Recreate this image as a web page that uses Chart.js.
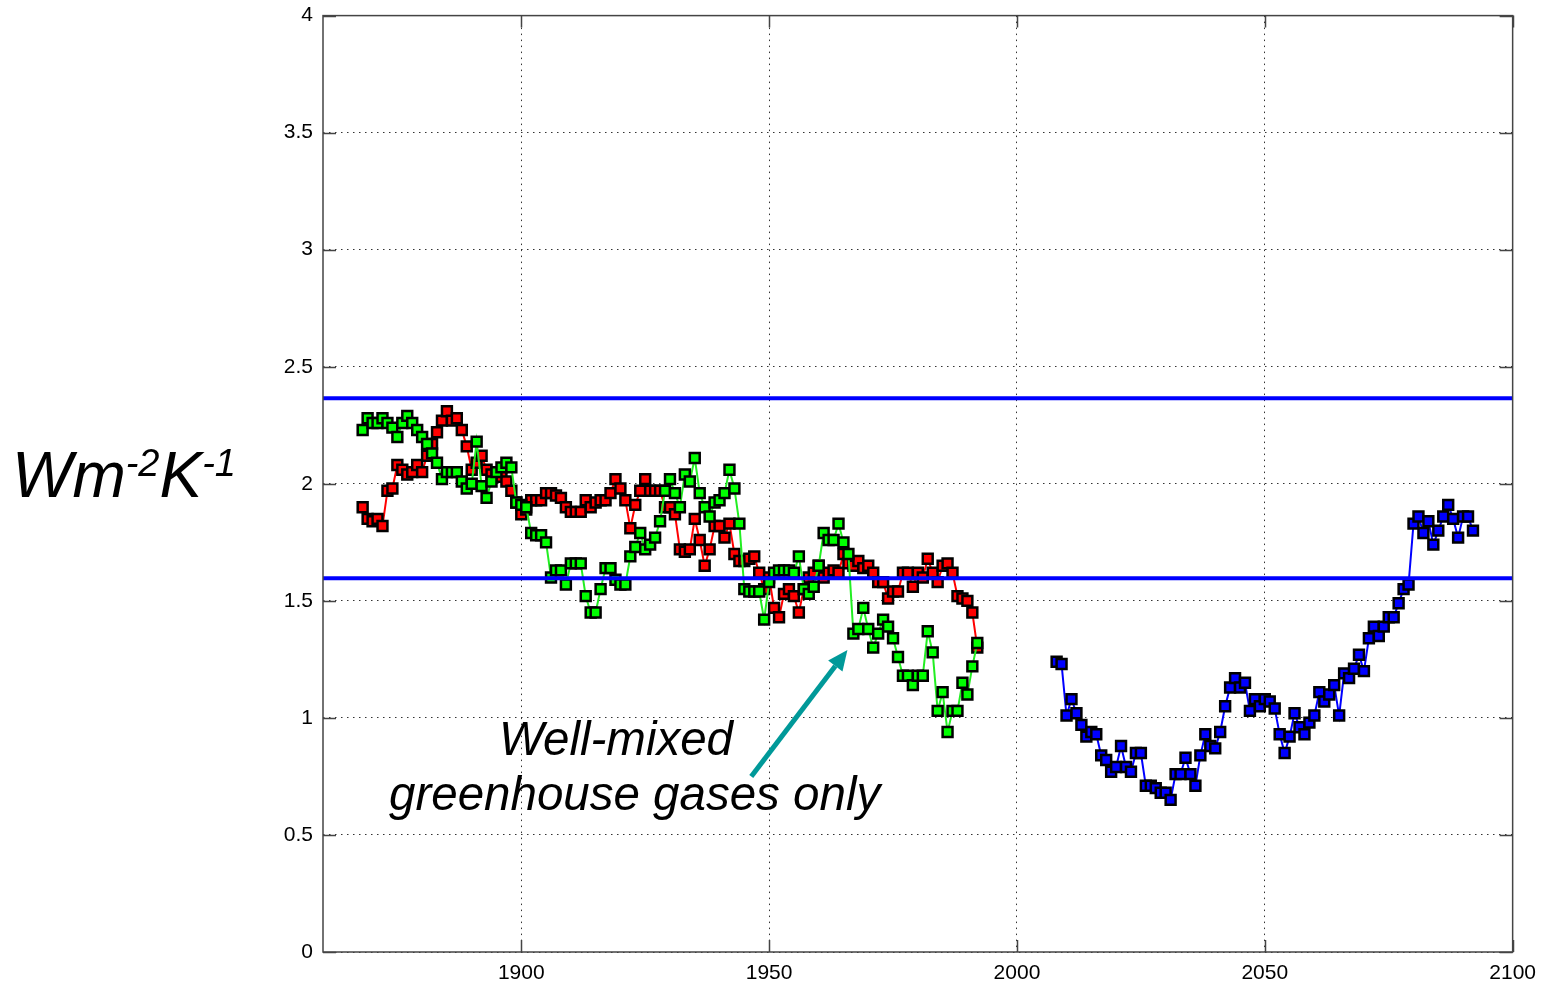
<!DOCTYPE html>
<html>
<head>
<meta charset="utf-8">
<script src="https://cdn.jsdelivr.net/npm/chart.js@4.4.0/dist/chart.umd.min.js"></script>
<style>
body { margin: 0; background: #fff; }
#wrap { position: relative; width: 1545px; height: 990px; overflow: hidden; }
#chart { position: absolute; left: 0; top: -7px; }
#unit { position: absolute; left: 12px; top: 443px; font: italic 64px "Liberation Sans", Arial, sans-serif; line-height: 1; white-space: nowrap; color: #000; }
#unit span { font-size: 38px; position: relative; top: -21px; }
.note { position: absolute; font: italic 47.5px "Liberation Sans", Arial, sans-serif; line-height: 1; white-space: nowrap; color: #000; }
</style>
</head>
<body>
<div id="wrap">
  <canvas id="chart" width="1545" height="997"></canvas>
  <div id="unit">Wm<span>-2</span>K<span>-1</span></div>
  <div class="note" style="left:499px; top:715px;">Well-mixed</div>
  <div class="note" style="left:389px; top:770px;">greenhouse gases only</div>
</div>
<script>
// red run, 1868 onwards
const redValues = [
    1.90, 1.85, 1.84, 1.85, 1.82, 1.97, 1.98, 2.08, 2.06, 2.04,
    2.05, 2.08, 2.05, 2.12, 2.17, 2.22, 2.27, 2.31, 2.27, 2.28,
    2.23, 2.16, 2.06, 2.09, 2.12, 2.06, 2.04, 2.05, 2.03, 2.01,
    1.97, 1.92, 1.87, 1.89, 1.93, 1.93, 1.93, 1.96, 1.96, 1.95,
    1.94, 1.90, 1.88, 1.88, 1.88, 1.93, 1.90, 1.92, 1.93, 1.93,
    1.96, 2.02, 1.98, 1.93, 1.81, 1.91, 1.97, 2.02, 1.97, 1.97,
    1.97, 1.90, 1.90, 1.87, 1.72, 1.71, 1.72, 1.85, 1.76, 1.65,
    1.72, 1.82, 1.82, 1.77, 1.83, 1.70, 1.67, 1.67, 1.68, 1.69,
    1.62, 1.55, 1.60, 1.47, 1.43, 1.53, 1.55, 1.52, 1.45, 1.55,
    1.60, 1.62, 1.65, 1.60, 1.62, 1.63, 1.62, 1.70, 1.66, 1.65,
    1.67, 1.64, 1.65, 1.62, 1.58, 1.58, 1.51, 1.54, 1.54, 1.62,
    1.62, 1.56, 1.62, 1.60, 1.68, 1.62, 1.58, 1.65, 1.66, 1.62,
    1.52, 1.51, 1.50, 1.45, 1.30
];

// well-mixed greenhouse gases only, 1868 onwards
const greenValues = [
    2.23, 2.28, 2.26, 2.26, 2.28, 2.26, 2.24, 2.20, 2.26, 2.29,
    2.26, 2.23, 2.20, 2.17, 2.13, 2.09, 2.02, 2.05, 2.05, 2.05,
    2.01, 1.98, 2.00, 2.18, 1.99, 1.94, 2.01, 2.05, 2.07, 2.09,
    2.07, 1.92, 1.91, 1.90, 1.79, 1.78, 1.78, 1.75, 1.60, 1.63,
    1.63, 1.57, 1.66, 1.66, 1.66, 1.52, 1.45, 1.45, 1.55, 1.64,
    1.64, 1.59, 1.57, 1.57, 1.69, 1.73, 1.79, 1.72, 1.74, 1.77,
    1.84, 1.97, 2.02, 1.96, 1.90, 2.04, 2.01, 2.11, 1.96, 1.90,
    1.86, 1.92, 1.93, 1.96, 2.06, 1.98, 1.83, 1.55, 1.54, 1.54,
    1.54, 1.42, 1.58, 1.62, 1.63, 1.63, 1.63, 1.62, 1.69, 1.55,
    1.53, 1.56, 1.65, 1.79, 1.76, 1.76, 1.83, 1.75, 1.70, 1.36,
    1.38, 1.47, 1.38, 1.30, 1.36, 1.42, 1.39, 1.34, 1.26, 1.18,
    1.18, 1.14, 1.18, 1.18, 1.37, 1.28, 1.03, 1.11, 0.94, 1.03,
    1.03, 1.15, 1.10, 1.22, 1.32
];

// future run, 2008 onwards
const blueValues = [
    1.24, 1.23, 1.01, 1.08, 1.02, 0.97, 0.92, 0.94, 0.93, 0.84,
    0.82, 0.77, 0.79, 0.88, 0.79, 0.77, 0.85, 0.85, 0.71, 0.71,
    0.70, 0.68, 0.68, 0.65, 0.76, 0.76, 0.83, 0.76, 0.71, 0.84,
    0.93, 0.88, 0.87, 0.94, 1.05, 1.13, 1.17, 1.13, 1.15, 1.03,
    1.08, 1.05, 1.08, 1.07, 1.04, 0.93, 0.85, 0.92, 1.02, 0.96,
    0.93, 0.98, 1.01, 1.11, 1.07, 1.10, 1.14, 1.01, 1.19, 1.17,
    1.21, 1.27, 1.20, 1.34, 1.39, 1.35, 1.39, 1.43, 1.43, 1.49,
    1.55, 1.57, 1.83, 1.86, 1.79, 1.84, 1.74, 1.80, 1.86, 1.91,
    1.85, 1.77, 1.86, 1.86, 1.80
];

const histStartYear = 1868;
const futureStartYear = 2008;
const refLevels = [2.365, 1.597];
const xTicks = [1900, 1950, 2000, 2050, 2100];
const yTicks = [0, 0.5, 1, 1.5, 2, 2.5, 3, 3.5, 4];
// arrow from the annotation, in data units
const arrowFrom = { x: 1946.4, y: 0.75 };
const arrowTo = { x: 1965.8, y: 1.29 };

function toPoints(startYear, values) {
    return values.map((v, i) => ({ x: startYear + i, y: v }));
}

function series(values, startYear, fill, line) {
    return {
        data: toPoints(startYear, values),
        borderColor: line,
        borderWidth: 2,
        backgroundColor: fill,
        pointStyle: 'rect',
        pointRadius: 7,
        pointBackgroundColor: fill,
        pointBorderColor: '#000',
        pointBorderWidth: 2.5,
        tension: 0,
        order: 2,
    };
}

const refDatasets = refLevels.map(level => ({
    data: [{ x: 1860, y: level }, { x: 2100, y: level }],
    borderColor: '#0000ff',
    borderWidth: 4,
    pointRadius: 0,
    order: 0,
}));

const font = { family: '"Liberation Sans", Arial, sans-serif', size: 21 };

// box frame, inner tick marks and the arrow
const framePlugin = {
    id: 'frame',
    afterDatasetsDraw(chart) {
        const ctx = chart.ctx;
        const a = chart.chartArea;
        const xs = chart.scales.x;
        const ys = chart.scales.y;
        ctx.save();
        ctx.strokeStyle = '#444';
        ctx.lineWidth = 1.5;
        ctx.strokeRect(a.left, a.top, a.right - a.left, a.bottom - a.top);
        ctx.beginPath();
        for (const t of yTicks) {
            const y = Math.round(ys.getPixelForValue(t)) + 0.5;
            ctx.moveTo(a.left, y); ctx.lineTo(a.left + 13, y);
            ctx.moveTo(a.right, y); ctx.lineTo(a.right - 13, y);
        }
        for (const t of xTicks) {
            const x = Math.round(xs.getPixelForValue(t)) + 0.5;
            ctx.moveTo(x, a.bottom); ctx.lineTo(x, a.bottom - 12);
            ctx.moveTo(x, a.top); ctx.lineTo(x, a.top + 12);
        }
        ctx.stroke();

        const x0 = xs.getPixelForValue(arrowFrom.x), y0 = ys.getPixelForValue(arrowFrom.y);
        const x1 = xs.getPixelForValue(arrowTo.x), y1 = ys.getPixelForValue(arrowTo.y);
        const ang = Math.atan2(y1 - y0, x1 - x0);
        const headLen = 20, headW = 9;
        const bx = x1 - headLen * Math.cos(ang), by = y1 - headLen * Math.sin(ang);
        ctx.strokeStyle = '#009999';
        ctx.fillStyle = '#009999';
        ctx.lineWidth = 5;
        ctx.beginPath();
        ctx.moveTo(x0, y0);
        ctx.lineTo(bx, by);
        ctx.stroke();
        ctx.beginPath();
        ctx.moveTo(x1, y1);
        ctx.lineTo(bx + headW * Math.sin(ang), by - headW * Math.cos(ang));
        ctx.lineTo(bx - headW * Math.sin(ang), by + headW * Math.cos(ang));
        ctx.closePath();
        ctx.fill();
        ctx.restore();
    }
};

new Chart(document.getElementById('chart'), {
    type: 'line',
    data: {
        datasets: [
            ...refDatasets,
            series(greenValues, histStartYear, '#00ff00', '#22ee22'),
            series(redValues, histStartYear, '#ff0000', '#ff0000'),
            series(blueValues, futureStartYear, '#0000ff', '#0000ff'),
        ]
    },
    options: {
        responsive: false,
        animation: false,
        events: [],
        layout: { padding: { left: 0, right: 32, top: 8, bottom: 0 } },
        plugins: { legend: { display: false }, tooltip: { enabled: false } },
        scales: {
            x: {
                type: 'linear',
                min: 1860,
                max: 2100,
                afterBuildTicks: axis => { axis.ticks = xTicks.map(v => ({ value: v })); },
                afterFit: axis => { axis.height = 38; },
                ticks: { font: font, color: '#000', padding: 9, maxRotation: 0, callback: v => String(v) },
                grid: { color: '#333', lineWidth: 1, drawTicks: false },
                border: { display: false, dash: [1.5, 4.5] },
            },
            y: {
                min: 0,
                max: 4,
                afterBuildTicks: axis => { axis.ticks = yTicks.map(v => ({ value: v })); },
                afterFit: axis => { axis.width = 323; },
                ticks: { font: font, color: '#000', padding: 10, callback: v => String(v) },
                grid: { color: '#333', lineWidth: 1, drawTicks: false },
                border: { display: false, dash: [1.5, 4.5] },
            }
        }
    },
    plugins: [framePlugin]
});
</script>
</body>
</html>
